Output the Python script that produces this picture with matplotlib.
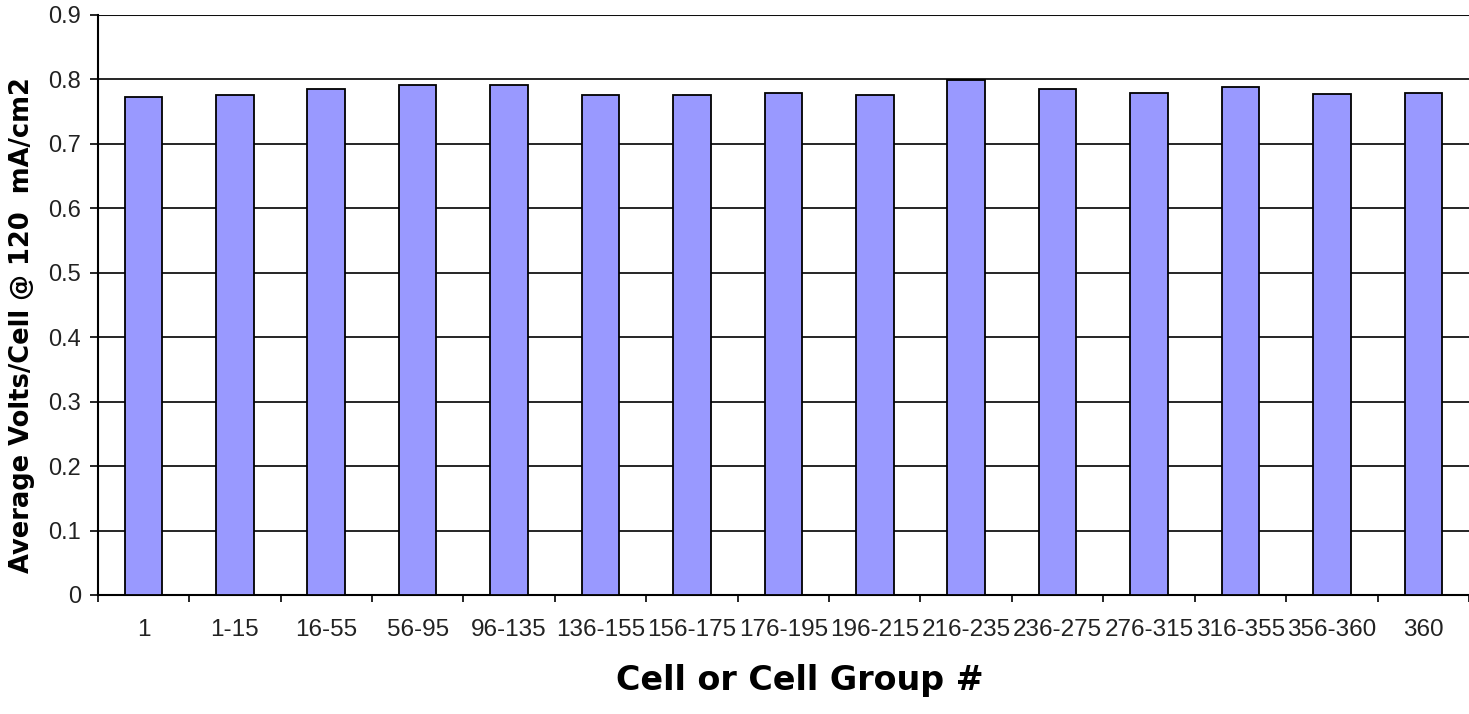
import matplotlib.pyplot as plt
import numpy as np

# cell groups and average volts per cell
groups = ['1', '1-15', '16-55', '56-95', '96-135', '136-155', '156-175', '176-195',
          '196-215', '216-235', '236-275', '276-315', '316-355', '356-360', '360']
volts = [0.773, 0.776, 0.785, 0.792, 0.792, 0.776, 0.776, 0.779,
         0.776, 0.799, 0.785, 0.779, 0.789, 0.777, 0.779]
yticks = [0, 0.1, 0.2, 0.3, 0.4, 0.5, 0.6, 0.7, 0.8, 0.9]
ytick_labels = ['0', '0.1', '0.2', '0.3', '0.4', '0.5', '0.6', '0.7', '0.8', '0.9']

fig = plt.figure(figsize=(14.69, 7.14), dpi=100)
ax = fig.add_axes([0.0665, 0.1667, 0.9335, 0.8123])

x = np.arange(len(groups))
ax.bar(x, volts, width=0.41, color='#9999FF', edgecolor='black', linewidth=1.3, zorder=3)

# grid
ax.set_ylim(0, 0.9)
ax.set_xlim(-0.5, len(groups) - 0.5)
ax.set_yticks(yticks)
ax.set_yticklabels(ytick_labels, fontsize=17, family='Liberation Sans', color='#222222')
ax.yaxis.grid(True, color='black', linewidth=1.2, zorder=0)
ax.tick_params(axis='y', length=6, width=1.2, pad=6)

# tick marks between categories, labels at centres
ax.set_xticks(np.arange(len(groups) + 1) - 0.5)
ax.set_xticklabels([])
ax.tick_params(axis='x', which='major', length=5, width=1.2)
ax.set_xticks(x, minor=True)
ax.set_xticklabels(groups, minor=True, fontsize=17.5, family='Liberation Sans', color='#222222')
ax.tick_params(axis='x', which='minor', length=0, pad=17)

for s in ['top', 'right']:
    ax.spines[s].set_visible(False)
ax.spines['left'].set_linewidth(1.5)
ax.spines['bottom'].set_linewidth(1.5)
ax.axhline(0.9, color='#555555', linewidth=1.5, zorder=0)

ax.set_ylabel('Average Volts/Cell @ 120  mA/cm2', fontsize=18.5, fontweight='bold')
ax.yaxis.set_label_coords(-0.046, 0.466)
ax.set_xlabel('Cell or Cell Group #', fontsize=24, fontweight='bold', va='center')
ax.xaxis.set_label_coords(0.512, -0.147)

fig.savefig('out.png', dpi=100)
